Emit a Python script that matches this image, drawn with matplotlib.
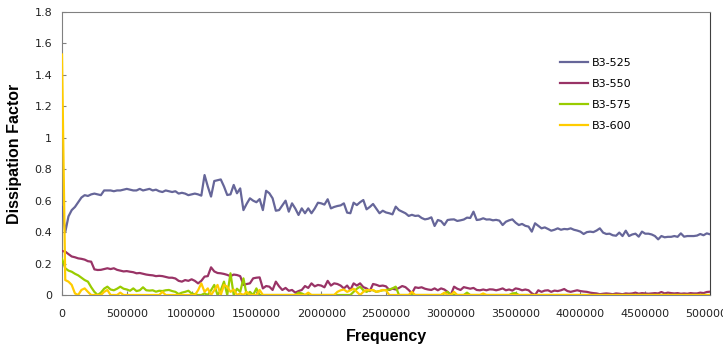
import numpy as np
import matplotlib
matplotlib.use("Agg")
import matplotlib.pyplot as plt
from matplotlib.ticker import FuncFormatter

# frequency sweep, 25 kHz steps from 0 to 5 MHz
freq = np.arange(0, 5000001, 25000)

b3_525 = [
    0.56, 0.40, 0.50, 0.54, 0.56, 0.59, 0.62, 0.635, 0.63, 0.64,
    0.645, 0.64, 0.635, 0.665, 0.665, 0.665, 0.66, 0.665, 0.665, 0.67,
    0.675, 0.67, 0.665, 0.665, 0.675, 0.665, 0.67, 0.675, 0.665, 0.67,
    0.66, 0.655, 0.665, 0.66, 0.655, 0.66, 0.645, 0.65, 0.645, 0.635,
    0.64, 0.645, 0.64, 0.632, 0.763, 0.69, 0.626, 0.725, 0.73, 0.735,
    0.69, 0.636, 0.64, 0.70, 0.647, 0.678, 0.54, 0.58, 0.615, 0.60,
    0.59, 0.61, 0.54, 0.663, 0.647, 0.615, 0.536, 0.54, 0.57, 0.60,
    0.53, 0.583, 0.55, 0.509, 0.551, 0.52, 0.551, 0.52, 0.55, 0.587,
    0.583, 0.575, 0.609, 0.551, 0.56, 0.566, 0.57, 0.583, 0.524, 0.52,
    0.587, 0.572, 0.59, 0.604, 0.545, 0.56, 0.579, 0.55, 0.52, 0.536,
    0.525, 0.52, 0.513, 0.562, 0.54, 0.53, 0.52, 0.503, 0.51, 0.503,
    0.505, 0.49, 0.481, 0.485, 0.494, 0.439, 0.477, 0.47, 0.445, 0.477,
    0.48, 0.481, 0.471, 0.475, 0.48, 0.492, 0.49, 0.53, 0.477, 0.48,
    0.488, 0.48, 0.481, 0.475, 0.478, 0.473, 0.445, 0.466, 0.475, 0.481,
    0.46, 0.445, 0.452, 0.44, 0.435, 0.403, 0.456, 0.44, 0.424, 0.43,
    0.42, 0.409, 0.415, 0.424, 0.415, 0.42, 0.418, 0.424, 0.415, 0.41,
    0.403, 0.388, 0.40, 0.403, 0.40, 0.41, 0.424, 0.397, 0.388, 0.39,
    0.38, 0.377, 0.397, 0.375, 0.409, 0.375, 0.385, 0.39, 0.371, 0.403,
    0.39, 0.39, 0.385, 0.375, 0.354, 0.375, 0.367, 0.37, 0.37, 0.375,
    0.37, 0.392, 0.371, 0.375, 0.375, 0.375, 0.378, 0.388, 0.38, 0.392,
    0.386,
]

b3_550 = [
    0.28, 0.276, 0.26, 0.245, 0.24, 0.233, 0.23, 0.225, 0.215, 0.212,
    0.163, 0.159, 0.16, 0.165, 0.17, 0.165, 0.17, 0.16, 0.155, 0.15,
    0.152, 0.148, 0.145, 0.138, 0.14, 0.135, 0.13, 0.127, 0.125, 0.12,
    0.122, 0.12, 0.115, 0.11, 0.11, 0.105, 0.09, 0.085, 0.095, 0.09,
    0.10, 0.09, 0.074, 0.09, 0.117, 0.12, 0.176, 0.15, 0.14, 0.138,
    0.134, 0.128, 0.12, 0.13, 0.127, 0.12, 0.064, 0.07, 0.074, 0.106,
    0.11, 0.112, 0.042, 0.057, 0.053, 0.032, 0.085, 0.055, 0.032, 0.045,
    0.027, 0.032, 0.015, 0.025, 0.032, 0.057, 0.045, 0.074, 0.055, 0.064,
    0.06, 0.049, 0.09, 0.06, 0.074, 0.07, 0.06, 0.042, 0.06, 0.032,
    0.074, 0.06, 0.074, 0.05, 0.042, 0.025, 0.07, 0.065, 0.057, 0.06,
    0.055, 0.032, 0.04, 0.035, 0.045, 0.057, 0.05, 0.032, 0.011, 0.049,
    0.045, 0.049, 0.04, 0.035, 0.032, 0.042, 0.03, 0.042, 0.035, 0.02,
    0.0, 0.053, 0.04, 0.032, 0.05, 0.045, 0.04, 0.045, 0.032, 0.03,
    0.035, 0.03, 0.036, 0.035, 0.03, 0.035, 0.042, 0.03, 0.035, 0.028,
    0.042, 0.038, 0.03, 0.035, 0.03, 0.011, 0.0, 0.03, 0.02, 0.028,
    0.03, 0.02, 0.028, 0.025, 0.03, 0.038, 0.025, 0.02, 0.025, 0.03,
    0.025, 0.022, 0.02, 0.015, 0.012, 0.01, 0.005, 0.008, 0.01, 0.008,
    0.005, 0.01, 0.008, 0.005, 0.01, 0.008, 0.01, 0.015, 0.008, 0.012,
    0.01, 0.008, 0.01, 0.012, 0.01, 0.019, 0.01, 0.015, 0.012, 0.01,
    0.012, 0.008, 0.01, 0.008, 0.012, 0.01, 0.01, 0.015, 0.012, 0.019,
    0.021,
]

b3_575 = [
    0.23, 0.17, 0.155, 0.148, 0.135, 0.125, 0.11, 0.095, 0.085, 0.05,
    0.02, 0.0, 0.015, 0.04, 0.053, 0.035, 0.03, 0.04, 0.053, 0.04,
    0.035, 0.027, 0.042, 0.025, 0.03, 0.049, 0.03, 0.028, 0.03, 0.021,
    0.027, 0.025, 0.03, 0.032, 0.025, 0.02, 0.006, 0.015, 0.02, 0.027,
    0.01, 0.005, 0.0, 0.0, 0.01, 0.0, 0.03, 0.064, 0.0, 0.03,
    0.085, 0.0, 0.138, 0.0, 0.04, 0.02, 0.106, 0.0, 0.02, 0.0,
    0.042, 0.0, 0.0, 0.0, 0.0, 0.0, 0.0, 0.0, 0.0, 0.0,
    0.0, 0.0, 0.0, 0.015, 0.01, 0.0, 0.0, 0.0, 0.0, 0.0,
    0.0, 0.0, 0.0, 0.0, 0.0, 0.0, 0.0, 0.0, 0.0, 0.0,
    0.02, 0.04, 0.053, 0.03, 0.02, 0.032, 0.03, 0.02, 0.025, 0.03,
    0.032, 0.035, 0.042, 0.053, 0.0, 0.0, 0.0, 0.0, 0.0, 0.0,
    0.0, 0.0, 0.0, 0.0, 0.0, 0.0, 0.0, 0.0, 0.01, 0.02,
    0.0, 0.0, 0.0, 0.0, 0.0, 0.015, 0.0, 0.0, 0.0, 0.0,
    0.0, 0.0, 0.0, 0.0, 0.0, 0.0, 0.0, 0.0, 0.0, 0.01,
    0.012, 0.0, 0.0, 0.0, 0.0, 0.0, 0.0, 0.0, 0.0, 0.0,
    0.0, 0.0, 0.0, 0.0, 0.0, 0.0, 0.0, 0.0, 0.0, 0.0,
    0.0, 0.0, 0.0, 0.0, 0.0, 0.0, 0.0, 0.0, 0.0, 0.0,
    0.0, 0.0, 0.0, 0.0, 0.0, 0.0, 0.0, 0.0, 0.0, 0.0,
    0.0, 0.0, 0.0, 0.0, 0.0, 0.0, 0.0, 0.0, 0.0, 0.0,
    0.0, 0.0, 0.0, 0.0, 0.0, 0.0, 0.0, 0.0, 0.0, 0.0,
    0.0,
]

b3_600 = [
    1.53, 0.095, 0.085, 0.064, 0.01, 0.0, 0.032, 0.042, 0.02, 0.0,
    0.0, 0.0, 0.0, 0.02, 0.032, 0.0, 0.0, 0.0, 0.015, 0.0,
    0.0, 0.0, 0.0, 0.0, 0.0, 0.0, 0.0, 0.0, 0.0, 0.0,
    0.0, 0.02, 0.0, 0.0, 0.0, 0.0, 0.0, 0.0, 0.0, 0.0,
    0.0, 0.0, 0.03, 0.074, 0.02, 0.042, 0.0, 0.03, 0.064, 0.0,
    0.064, 0.053, 0.02, 0.035, 0.0, 0.01, 0.0, 0.02, 0.0, 0.0,
    0.0, 0.032, 0.0, 0.0, 0.0, 0.0, 0.0, 0.0, 0.0, 0.0,
    0.0, 0.0, 0.0, 0.0, 0.0, 0.0, 0.015, 0.0, 0.0, 0.0,
    0.0, 0.0, 0.0, 0.0, 0.0, 0.02, 0.03, 0.035, 0.02, 0.03,
    0.04, 0.02, 0.0, 0.02, 0.032, 0.03, 0.032, 0.02, 0.025, 0.032,
    0.03, 0.0, 0.0, 0.0, 0.0, 0.0, 0.0, 0.0, 0.02, 0.0,
    0.0, 0.0, 0.0, 0.0, 0.0, 0.0, 0.0, 0.0, 0.015, 0.0,
    0.0, 0.02, 0.0, 0.0, 0.0, 0.0, 0.0, 0.0, 0.0, 0.0,
    0.01, 0.0, 0.0, 0.0, 0.0, 0.0, 0.0, 0.0, 0.0, 0.0,
    0.0, 0.0, 0.0, 0.0, 0.0, 0.0, 0.0, 0.0, 0.0, 0.0,
    0.0, 0.0, 0.0, 0.0, 0.0, 0.0, 0.0, 0.0, 0.0, 0.0,
    0.0, 0.0, 0.0, 0.0, 0.0, 0.0, 0.0, 0.0, 0.0, 0.0,
    0.0, 0.0, 0.0, 0.0, 0.0, 0.0, 0.0, 0.0, 0.0, 0.0,
    0.0, 0.0, 0.0, 0.0, 0.0, 0.0, 0.0, 0.0, 0.0, 0.0,
    0.0, 0.0, 0.0, 0.0, 0.0, 0.0, 0.0, 0.0, 0.0, 0.0,
    0.0,
]

series = [("B3-525", b3_525, "#666699"),
          ("B3-550", b3_550, "#993366"),
          ("B3-575", b3_575, "#99CC00"),
          ("B3-600", b3_600, "#FFCC00")]

xticks = np.arange(0, 5000001, 500000)
yticks = np.arange(0, 1.81, 0.2)

fig = plt.figure(figsize=(7.23, 3.45), dpi=100)
ax = fig.add_axes([62/723, 50/345, 648/723, 283/345])

# lines drawn over the frame but clipped to the plot area
for name, vals, col in series:
    ax.plot(freq, vals, color=col, lw=1.6, label=name, zorder=3)

ax.set_xlim(0, 5000000)
ax.set_ylim(0, 1.8)
ax.set_xticks(xticks)
ax.set_yticks(yticks)
ax.xaxis.set_major_formatter(FuncFormatter(lambda v, p: "%d" % v))
ax.yaxis.set_major_formatter(FuncFormatter(lambda v, p: "%g" % round(v, 1)))
ax.tick_params(axis="both", direction="in", length=3, color="#808080",
               labelsize=8, labelcolor="#222222")
ax.tick_params(axis="x", pad=10)
ax.tick_params(axis="y", pad=7)

for s in ("left", "top", "bottom"):
    ax.spines[s].set_color("#808080")
ax.spines["right"].set_color("#404040")

ax.set_xlabel("Frequency", fontsize=11.5, fontweight="bold",
              family="Liberation Sans", labelpad=7)
ax.set_ylabel("Dissipation Factor", fontsize=11.5, fontweight="bold",
              family="Liberation Sans", labelpad=9)

ax.legend(loc="upper left", bbox_to_anchor=(560/723, 1 - 58/345),
          bbox_transform=fig.transFigure, frameon=False, fontsize=8,
          handlelength=2.5, handletextpad=0.4, labelspacing=1.0,
          borderpad=0, borderaxespad=0)

fig.savefig("out.png", dpi=100)
